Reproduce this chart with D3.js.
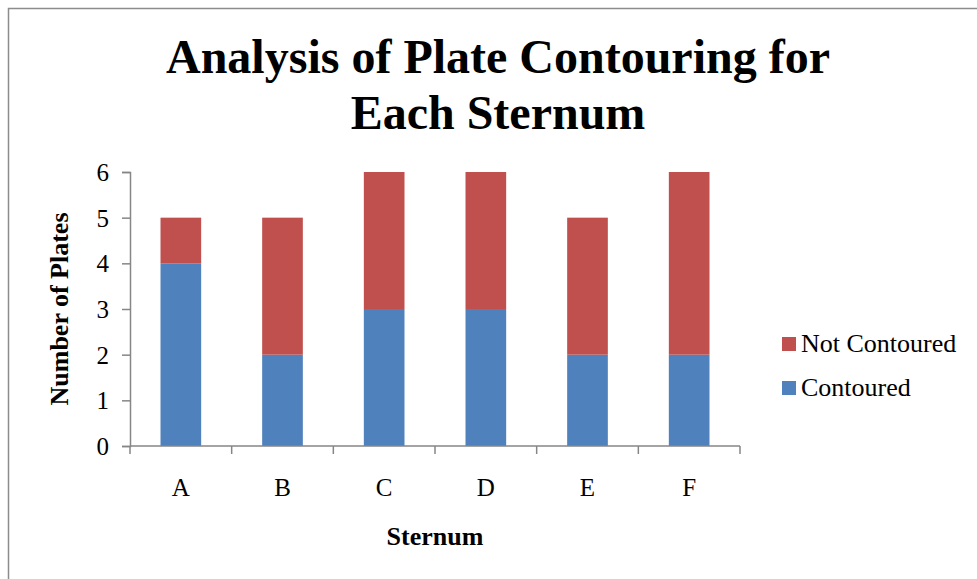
<!DOCTYPE html>
<html>
<head>
<meta charset="utf-8">
<script src="https://cdn.jsdelivr.net/npm/d3@7"></script>
<style>
  html, body { margin: 0; padding: 0; background: #fff; }
  svg { display: block; }
  svg text { font-family: "Liberation Serif", "Times New Roman", serif !important; fill: #000; }
</style>
</head>
<body>
<svg id="chart" width="977" height="579"></svg>
<script>
// Plates per sternum
const categories = ["A", "B", "C", "D", "E", "F"];
const contoured = [4, 2, 3, 3, 2, 2];
const notContoured = [1, 3, 3, 3, 3, 4];
const yTicks = [0, 1, 2, 3, 4, 5, 6];
const seriesNames = ["Contoured", "Not Contoured"];
const seriesColors = ["#4F81BD", "#C0504D"];

const FONT = "'Liberation Serif', 'Times New Roman', serif";
const svg = d3.select("#chart");
const W = 977, H = 579;

// chart frame
svg.append("rect")
  .attr("x", 8.5).attr("y", 8.5)
  .attr("width", W + 10).attr("height", H + 10)
  .attr("fill", "#fff").attr("stroke", "#8c8c8c").attr("stroke-width", 1.5);

const plot = { left: 130, right: 740, top: 172, bottom: 446 };

const x = d3.scaleBand().domain(categories)
  .range([plot.left, plot.right]).paddingInner(0.6).paddingOuter(0.3);
const y = d3.scaleLinear().domain([0, 6]).range([plot.bottom, plot.top]);

const rows = categories.map((c, i) => ({ cat: c, Contoured: contoured[i], "Not Contoured": notContoured[i] }));
const stacked = d3.stack().keys(seriesNames)(rows);

svg.append("g").selectAll("g").data(stacked).join("g")
  .attr("fill", (d, i) => seriesColors[i])
  .selectAll("rect").data(d => d).join("rect")
  .attr("x", d => x(d.data.cat))
  .attr("width", x.bandwidth())
  .attr("y", d => y(d[1]))
  .attr("height", d => y(d[0]) - y(d[1]));

// y axis
const yAxis = svg.append("g")
  .attr("transform", `translate(${plot.left},0)`)
  .call(d3.axisLeft(y).tickValues(yTicks).tickFormat(d3.format("d")).tickSize(8).tickPadding(13));
yAxis.attr("font-family", FONT);
yAxis.select(".domain").attr("stroke", "#868686").attr("stroke-width", 1.5);
yAxis.selectAll(".tick line").attr("stroke", "#868686").attr("stroke-width", 1.5);
yAxis.selectAll("text").attr("font-size", 25).attr("fill", "#000")
  .style("font-family", FONT).attr("dy", "0.34em");

// x axis with boundary ticks between categories
const xAxisG = svg.append("g").attr("transform", `translate(0,${plot.bottom})`);
xAxisG.append("line")
  .attr("x1", plot.left).attr("x2", plot.right)
  .attr("stroke", "#868686").attr("stroke-width", 1.5);
const step = (plot.right - plot.left) / categories.length;
const bounds = d3.range(categories.length + 1).map(i => plot.left + i * step);
xAxisG.selectAll("line.tk").data(bounds).join("line").attr("class", "tk")
  .attr("x1", d => d).attr("x2", d => d).attr("y1", 0).attr("y2", 8)
  .attr("stroke", "#868686").attr("stroke-width", 1.5);
xAxisG.selectAll("text").data(categories).join("text")
  .attr("x", d => x(d) + x.bandwidth() / 2)
  .attr("y", 50)
  .attr("text-anchor", "middle")
  .style("font-family", FONT)
  .style("font-size", "25px")
  .text(d => d);

// title
const title = svg.append("text")
  .attr("text-anchor", "middle")
  .style("font-family", FONT)
  .style("font-size", "48px").style("font-weight", "bold");
title.append("tspan").attr("x", 498).attr("y", 73).text("Analysis of Plate Contouring for");
title.append("tspan").attr("x", 498).attr("y", 129).text("Each Sternum");

// axis titles
svg.append("text")
  .attr("transform", `translate(68,309) rotate(-90)`)
  .attr("text-anchor", "middle")
  .style("font-family", FONT)
  .style("font-size", "26px").style("font-weight", "bold")
  .text("Number of Plates");
svg.append("text")
  .attr("x", 435).attr("y", 545)
  .attr("text-anchor", "middle")
  .style("font-family", FONT)
  .style("font-size", "26px").style("font-weight", "bold")
  .text("Sternum");

// legend
const legendItems = [
  { name: "Not Contoured", color: seriesColors[1], y: 343 },
  { name: "Contoured", color: seriesColors[0], y: 387 }
];
const lg = svg.append("g").selectAll("g").data(legendItems).join("g")
  .attr("transform", d => `translate(782,${d.y})`);
lg.append("rect").attr("x", 0).attr("y", -6).attr("width", 14).attr("height", 14)
  .attr("fill", d => d.color);
lg.append("text").attr("x", 19).attr("y", 9)
  .style("font-family", FONT)
  .style("font-size", "26px").text(d => d.name);
</script>
</body>
</html>
